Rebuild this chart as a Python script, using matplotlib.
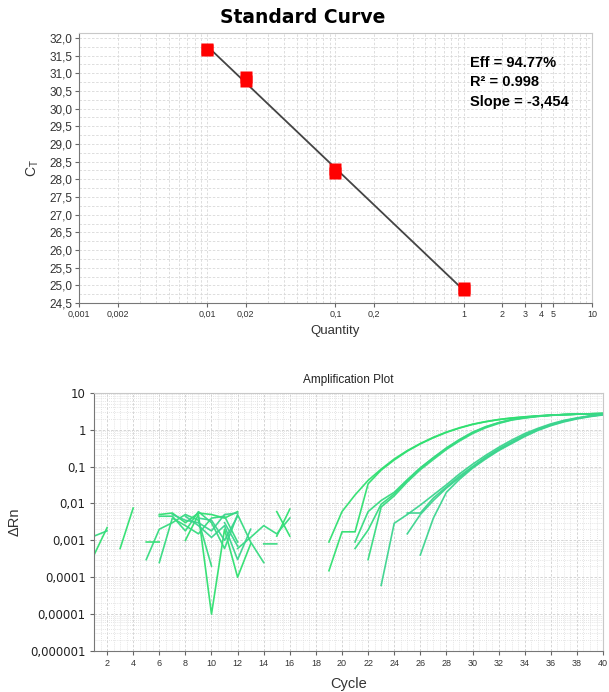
import numpy as np
import matplotlib
matplotlib.use('Agg')
import matplotlib.pyplot as plt
from matplotlib.ticker import FixedLocator, NullFormatter, MultipleLocator, LogLocator

N = np.nan

# **** standard curve data ****
quantity = [0.01, 0.01, 0.02, 0.02, 0.1, 0.1, 1, 1]
ct = [31.66, 31.70, 30.78, 30.90, 28.18, 28.30, 24.88, 24.92]
slope = -3.454
intercept = 24.86
fit_range = [0.01, 1]
stats_text = ['Eff = 94.77%', 'R\u00b2 = 0.998', 'Slope = -3,454']

sc_xticks = [0.001, 0.002, 0.01, 0.02, 0.1, 0.2, 1, 2, 3, 4, 5, 10]
sc_xlabels = ['0,001', '0,002', '0,01', '0,02', '0,1', '0,2', '1', '2', '3', '4', '5', '10']
sc_yticks = np.arange(24.5, 32.01, 0.5)

# **** amplification data (delta Rn per cycle 1..40, NaN = not drawn on log axis) ****
cycles = np.arange(1, 41)
well_a1 = [N, N, 0.0006, 0.0075, N, 0.005, 0.0055, 0.003, 0.0055, 0.005,
           0.004, 0.006, N, N, 0.0013, 0.007, N, N, 0.0009, 0.006,
           0.017, 0.042, 0.085, 0.16, 0.27, 0.42, 0.62, 0.86, 1.12, 1.4,
           1.65, 1.88, 2.07, 2.22, 2.36, 2.46, 2.55, 2.62, 2.68, 2.72]
well_a2 = [0.0004, 0.0022, N, N, 0.0009, 0.0009, N, 0.001, 0.005, 0.00001,
           0.002, 0.0001, 0.0008, N, 0.006, 0.0013, N, N, 0.00015, 0.0017,
           0.0017, 0.034, 0.08, 0.15, 0.26, 0.41, 0.6, 0.84, 1.1, 1.38,
           1.63, 1.86, 2.05, 2.21, 2.35, 2.46, 2.55, 2.62, 2.68, 2.72]
well_b1 = [0.0013, 0.0018, N, N, 0.0003, 0.002, 0.003, 0.005, 0.0035, 0.0002,
           N, 0.0006, 0.0012, 0.0025, 0.0015, 0.004, N, N, N, N,
           0.0006, 0.0019, 0.0095, 0.018, 0.042, 0.09, 0.17, 0.31, 0.52, 0.82,
           1.17, 1.52, 1.86, 2.1, 2.3, 2.45, 2.55, 2.62, 2.68, 2.72]
well_b2 = [N, N, N, N, N, 0.00025, 0.004, 0.0025, 0.0015, 0.004,
           0.0045, 0.0009, N, 0.0008, 0.0008, N, N, N, N, N,
           N, 0.0003, 0.008, 0.016, 0.038, 0.082, 0.155, 0.29, 0.49, 0.78,
           1.12, 1.47, 1.81, 2.06, 2.27, 2.43, 2.54, 2.62, 2.68, 2.72]
well_b3 = [N, N, N, N, N, 0.0045, 0.0045, 0.0018, 0.006, 0.003,
           0.0006, 0.005, 0.0009, 0.00025, N, N, N, N, N, N,
           0.0009, 0.006, 0.012, 0.02, 0.044, 0.092, 0.175, 0.32, 0.54, 0.85,
           1.2, 1.55, 1.88, 2.12, 2.32, 2.46, 2.56, 2.63, 2.68, 2.72]
well_c1 = [N, N, N, N, N, N, 0.005, 0.0035, 0.003, 0.0018,
           0.005, 0.0055, N, N, N, N, N, N, N, N,
           N, N, 0.00006, 0.0029, 0.005, 0.009, 0.017, 0.032, 0.063, 0.115,
           0.2, 0.33, 0.52, 0.78, 1.08, 1.43, 1.78, 2.08, 2.37, 2.62]
well_c2 = [N, N, N, N, N, N, N, 0.0045, 0.0025, 0.0012,
           0.0025, 0.0003, 0.002, N, N, N, N, N, N, N,
           N, N, N, N, 0.0015, 0.005, 0.012, 0.026, 0.05, 0.095,
           0.17, 0.28, 0.44, 0.68, 0.98, 1.32, 1.68, 2.0, 2.3, 2.55]
well_c3 = [N, N, N, N, N, N, N, N, 0.004, 0.0035,
           0.001, 0.0045, N, N, N, N, N, N, N, N,
           N, N, N, N, 0.0055, 0.0055, 0.014, 0.028, 0.055, 0.1,
           0.18, 0.3, 0.47, 0.72, 1.02, 1.36, 1.72, 2.03, 2.33, 2.58]
well_c4 = [N, N, N, N, N, N, N, N, N, N,
           0.003, 0.0007, N, N, N, N, N, N, N, N,
           N, N, N, N, N, 0.0004, 0.004, 0.02, 0.045, 0.09,
           0.16, 0.27, 0.42, 0.65, 0.95, 1.28, 1.62, 1.95, 2.25, 2.5]
wells = [well_a1, well_a2, well_b1, well_b2, well_b3, well_c1, well_c2, well_c3, well_c4]
well_colors = ['#2fe070', '#2fe070', '#36db80', '#36db80', '#36db80',
               '#3bd48e', '#3bd48e', '#3bd48e', '#3bd48e']

amp_yticks = [1e-6, 1e-5, 1e-4, 1e-3, 1e-2, 1e-1, 1, 10]
amp_ylabels = ['0,000001', '0,00001', '0,0001', '0,001', '0,01', '0,1', '1', '10']
amp_xticks = np.arange(2, 41, 2)

plt.rcParams['font.family'] = ['Liberation Sans', 'DejaVu Sans']
fig = plt.figure(figsize=(6.09, 6.92), dpi=100)

# **** standard curve ****
ax = fig.add_axes([0.1297, 0.5621, 0.8424, 0.3902])
ax.set_xscale('log')
ax.set_xlim(0.001, 10)
ax.set_ylim(24.5, 32.14)
ax.xaxis.set_major_locator(FixedLocator(sc_xticks))
ax.set_xticklabels(sc_xlabels, fontsize=6.5, color='#333333')
ax.xaxis.set_minor_locator(LogLocator(base=10, subs=np.arange(1, 10)))
ax.xaxis.set_minor_formatter(NullFormatter())
ax.set_yticks(sc_yticks)
ax.set_yticklabels([f'{v:.1f}'.replace('.', ',') for v in sc_yticks], fontsize=8.5, color='#333333')
ax.yaxis.set_minor_locator(MultipleLocator(0.25))
ax.tick_params(which='major', length=3, width=0.8, color='#666666', pad=2)
ax.tick_params(which='minor', length=0)
ax.grid(True, which='both', ls=(0, (3, 2)), color='#d8d8d8', lw=0.6)
ax.set_axisbelow(True)
for s in ['top', 'right']:
    ax.spines[s].set_color('#c8c8c8')
for s in ['left', 'bottom']:
    ax.spines[s].set_color('#777777')

xf = np.array(fit_range)
ax.plot(xf, slope * np.log10(xf) + intercept, color='#444444', lw=1.3, zorder=3)
ax.plot(quantity, ct, ls='none', marker='s', ms=8.5, color='#ff0000', mec='none', zorder=4)
for i, t in enumerate(stats_text):
    ax.text(0.762, 0.89 - i * 0.072, t, transform=ax.transAxes, fontsize=10.5,
            fontweight='bold', va='center', ha='left', color='black')
ax.set_xlabel('Quantity', fontsize=9.5, color='#333333', labelpad=4)
ax.set_ylabel('C$_\\mathregular{T}$', fontsize=10, color='#333333', labelpad=6)
fig.text(0.497, 0.974, 'Standard Curve', ha='center', va='center', fontsize=13.5,
         fontweight='heavy', family='DejaVu Sans')

# **** amplification plot ****
ax2 = fig.add_axes([0.1544, 0.0592, 0.8358, 0.3733])
ax2.set_yscale('log')
ax2.set_xlim(1, 40)
ax2.set_ylim(1e-6, 10)
for w, c in zip(wells, well_colors):
    ax2.plot(cycles, w, color=c, lw=1.2, alpha=0.95)
ax2.set_yticks(amp_yticks)
ax2.set_yticklabels(amp_ylabels, fontsize=8.5, color='#222222', family='DejaVu Sans')
ax2.yaxis.set_minor_locator(LogLocator(base=10, subs=np.arange(2, 10)))
ax2.yaxis.set_minor_formatter(NullFormatter())
ax2.set_xticks(amp_xticks)
ax2.set_xticklabels([str(v) for v in amp_xticks], fontsize=6.5, color='#333333')
ax2.xaxis.set_minor_locator(MultipleLocator(0.5))
ax2.tick_params(which='major', length=3, width=0.8, color='#666666', pad=3)
ax2.tick_params(which='minor', length=0)
ax2.grid(True, which='major', ls=(0, (3, 2)), color='#cfcfcf', lw=0.6)
ax2.grid(True, which='minor', ls=(0, (1, 1.5)), color='#dcdcdc', lw=0.6)
ax2.set_axisbelow(True)
for s in ['top', 'right']:
    ax2.spines[s].set_color('#c8c8c8')
for s in ['left', 'bottom']:
    ax2.spines[s].set_color('#777777')
ax2.set_xlabel('Cycle', fontsize=10.5, color='#333333', labelpad=6)
ax2.set_ylabel('\u0394Rn', fontsize=10.5, color='#333333', labelpad=6)
ax2.set_title('Amplification Plot', fontsize=8.5, color='#222222', pad=7)

fig.savefig('out.png', dpi=100)
